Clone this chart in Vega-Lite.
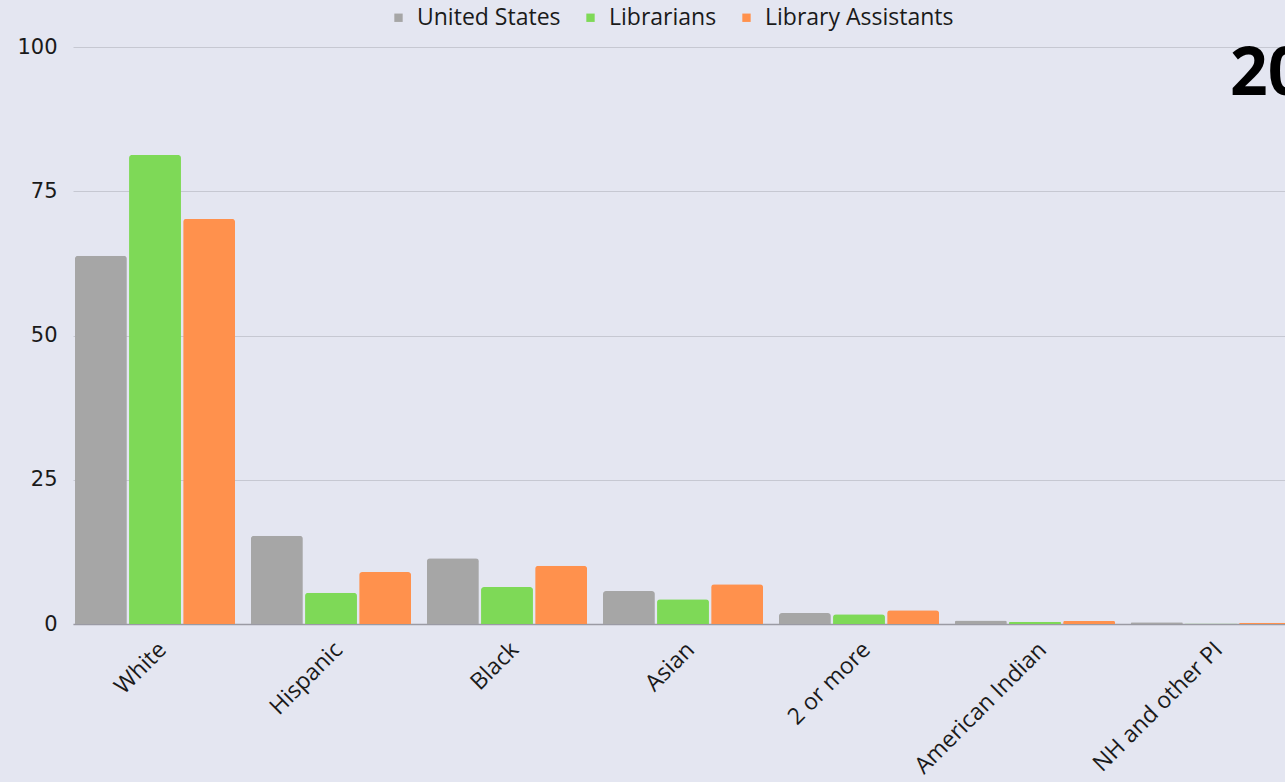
{
  "$schema": "https://vega.github.io/schema/vega-lite/v6.json",
  "autosize": "none",
  "padding": {"left": 73, "top": 47, "right": -8, "bottom": 158},
  "width": 1220,
  "height": 577,
  "background": "#e4e6f1",
  "title": {"text": "2020", "anchor": "start", "frame": "group", "fontSize": 66, "fontWeight": "bold", "font": "Open Sans", "color": "#000000", "dx": 1157, "dy": 107, "baseline": "top"},
  "data": {"values": [
    {"category": "White", "group": "United States", "value": 63.8},
    {"category": "White", "group": "Librarians", "value": 81.3},
    {"category": "White", "group": "Library Assistants", "value": 70.2},
    {"category": "Hispanic", "group": "United States", "value": 15.3},
    {"category": "Hispanic", "group": "Librarians", "value": 5.4},
    {"category": "Hispanic", "group": "Library Assistants", "value": 9.0},
    {"category": "Black", "group": "United States", "value": 11.4},
    {"category": "Black", "group": "Librarians", "value": 6.4},
    {"category": "Black", "group": "Library Assistants", "value": 10.1},
    {"category": "Asian", "group": "United States", "value": 5.7},
    {"category": "Asian", "group": "Librarians", "value": 4.3},
    {"category": "Asian", "group": "Library Assistants", "value": 6.9},
    {"category": "2 or more", "group": "United States", "value": 1.9},
    {"category": "2 or more", "group": "Librarians", "value": 1.7},
    {"category": "2 or more", "group": "Library Assistants", "value": 2.4},
    {"category": "American Indian", "group": "United States", "value": 0.6},
    {"category": "American Indian", "group": "Librarians", "value": 0.4},
    {"category": "American Indian", "group": "Library Assistants", "value": 0.5},
    {"category": "NH and other PI", "group": "United States", "value": 0.3},
    {"category": "NH and other PI", "group": "Librarians", "value": 0.1},
    {"category": "NH and other PI", "group": "Library Assistants", "value": 0.2}
  ]},
  "mark": {"type": "bar", "cornerRadiusTopLeft": 3, "cornerRadiusTopRight": 3},
  "encoding": {
    "x": {
      "field": "category", "type": "nominal",
      "sort": ["White", "Hispanic", "Black", "Asian", "2 or more", "American Indian", "NH and other PI"],
      "scale": {"paddingInner": 0.09, "paddingOuter": 0.011},
      "axis": {"title": null, "labelAngle": -45, "ticks": false, "domainColor": "#9a9aa4", "domainWidth": 1.5, "labelFont": "Open Sans", "labelFontSize": 23, "labelColor": "#1a1a1a", "labelPadding": 14, "labelLimit": 300}
    },
    "xOffset": {
      "field": "group", "type": "nominal",
      "sort": ["United States", "Librarians", "Library Assistants"],
      "scale": {"paddingInner": 0.04}
    },
    "y": {
      "field": "value", "type": "quantitative",
      "scale": {"domain": [0, 100]},
      "axis": {"title": null, "values": [0, 25, 50, 75, 100], "domain": false, "ticks": false, "labelPadding": 16, "labelFont": "DejaVu Sans", "labelFontSize": 21, "labelColor": "#1a1a1a", "gridColor": "#c6c8d2", "gridWidth": 1}
    },
    "color": {
      "field": "group", "type": "nominal",
      "sort": ["United States", "Librarians", "Library Assistants"],
      "scale": {"domain": ["United States", "Librarians", "Library Assistants"], "range": ["#a6a6a6", "#7ed957", "#ff914d"]},
      "legend": {"title": null, "orient": "none", "legendX": 314, "legendY": -41, "direction": "horizontal", "symbolType": "square", "symbolSize": 70, "labelFont": "Open Sans", "labelFontSize": 23, "labelColor": "#1a1a1a", "labelLimit": 400, "columnPadding": 18, "labelOffset": 7}
    }
  },
  "config": {"view": {"stroke": null}}
}
